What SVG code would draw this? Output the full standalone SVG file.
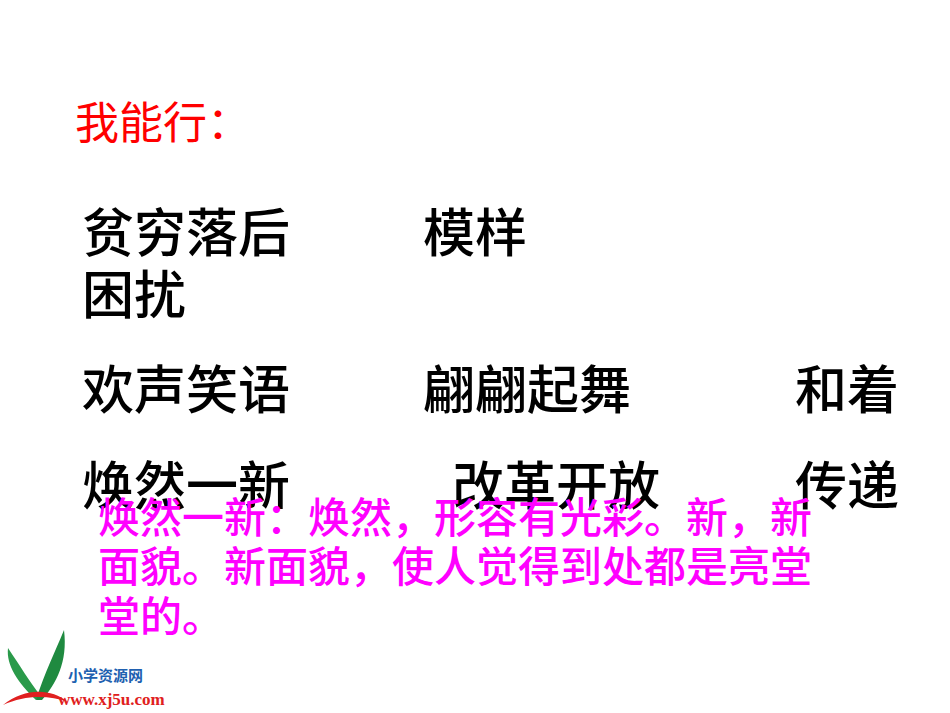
<svg xmlns="http://www.w3.org/2000/svg" width="950" height="713" viewBox="0 0 950 713">
<style>
.k{font-family:"Liberation Sans","Noto Sans CJK SC",sans-serif;font-size:52px;fill:#000;font-weight:500}
.m{font-family:"Liberation Sans","Noto Sans CJK SC",sans-serif;font-size:42px;fill:#ff00ff;font-weight:500}
</style>
<rect width="950" height="713" fill="#fff"/>
<text x="75" y="139" font-family="Liberation Sans,Noto Sans CJK SC,sans-serif" font-size="44" fill="#ff0000">我能行：</text>
<text class="k" x="82" y="252">贫穷落后</text>
<text class="k" x="423" y="252">模样</text>
<text class="k" x="82" y="314">困扰</text>
<text class="k" x="82" y="409">欢声笑语</text>
<text class="k" x="423" y="409">翩翩起舞</text>
<text class="k" x="795" y="409">和着</text>
<text class="k" x="82" y="505">焕然一新</text>
<text class="k" x="452" y="505">改革开放</text>
<text class="k" x="795" y="505">传递</text>
<text class="m" x="98" y="533">焕然一新：焕然，形容有光彩。新，新</text>
<text class="m" x="98" y="582">面貌。新面貌，使人觉得到处都是亮堂</text>
<text class="m" x="98" y="632">堂的。</text>
<g id="logo">
<path d="M36,700 C18,683 6,665 8,648 C20,666 30,682 40,695 Z" fill="#2a9a4a"/>
<path d="M36,700 C45,672 55,652 64,630 C68,662 56,684 42,700 Z" fill="#1f8a40"/>
<path d="M3,705 C25,688 50,688 68,702 C48,695 25,695 3,705 Z" fill="#e02020"/>
<text x="68" y="681" font-family="Liberation Sans,Noto Sans CJK SC,sans-serif" font-weight="bold" font-size="15" fill="#2060b0">小学资源网</text>
<text x="58" y="705" font-family="Liberation Serif,serif" font-weight="bold" font-size="17" fill="#e02020">www.xj5u.com</text>
</g>
</svg>
